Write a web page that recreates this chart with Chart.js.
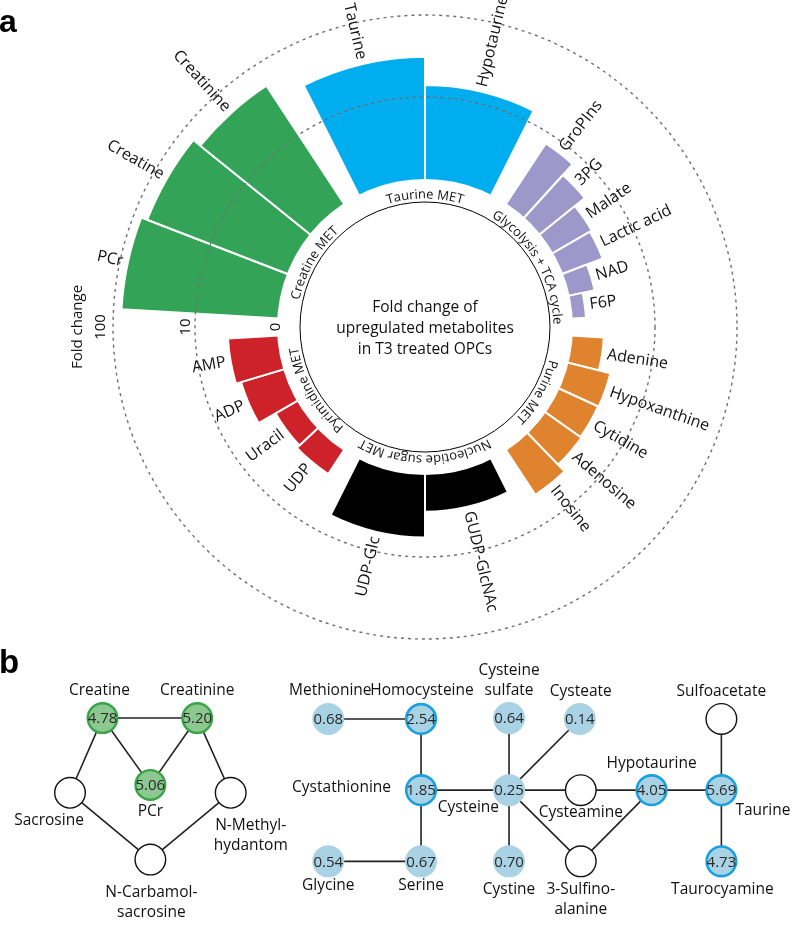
<!DOCTYPE html>
<html>
<head>
<meta charset="utf-8">
<script src="https://cdn.jsdelivr.net/npm/chart.js@4.4.1/dist/chart.umd.min.js"></script>
<style>
  html, body { margin: 0; padding: 0; background: #fff; }
  #wrap { position: relative; width: 800px; height: 928px; overflow: hidden; }
  #circleChart { position: absolute; left: 0; top: 0; }
  #networkChart { position: absolute; left: 0; top: 640px; }
</style>
</head>
<body>
<div id="wrap">
  <canvas id="circleChart" width="800" height="660"></canvas>
  <canvas id="networkChart" width="800" height="288"></canvas>
</div>
<script>
// ---- a: fold change of upregulated metabolites (log radial bars) ----
const groupNames = ['Creatine MET', 'Taurine MET', 'Glycolysis + TCA cycle', 'Purine MET', 'Nucleotide sugar MET', 'Pyrimidine MET'];
const groupColors = ['#33a457', '#00aeef', '#9d97ca', '#e0832f', '#000000', '#cd2229'];

const creatineNames = ['PCr', 'Creatine', 'Creatinine'];
const creatineFold = [80, 67, 52];
const taurineNames = ['Taurine', 'Hypotaurine'];
const taurineFold = [31, 14];
const glycolysisNames = ['GroPIns', '3PG', 'Malate', 'Lactic acid', 'NAD', 'F6P'];
const glycolysisFold = [7.5, 5.0, 3.5, 3.3, 2.05, 1.45];
const purineNames = ['Adenine', 'Hypoxanthine', 'Cytidine', 'Adenosine', 'Inosine'];
const purineFold = [2.4, 3.35, 3.3, 3.4, 4.4];
const sugarNames = ['GUDP-GlcNAc', 'UDP-Glc'];
const sugarFold = [2.8, 5.8];
const pyrimidineNames = ['UDP', 'Uracil', 'ADP', 'AMP'];
const pyrimidineFold = [2.2, 2.0, 3.45, 4.0];

const foldTicks = [1, 10, 100];
const foldTickLabels = ['0', '10', '100'];
const centerLines = ['Fold change of', 'upregulated metabolites', 'in T3 treated OPCs'];

// ---- b: pathway networks ----
const nodeNames = ['Creatine', 'Creatinine', 'PCr', 'Sacrosine', 'N-Methyl-hydantom', 'N-Carbamol-sacrosine',
  'Methionine', 'Homocysteine', 'Cysteine sulfate', 'Cysteate', 'Sulfoacetate',
  'Cystathionine', 'Cysteine', 'Cysteamine', 'Hypotaurine', 'Taurine',
  'Glycine', 'Serine', 'Cystine', '3-Sulfinoalanine', 'Taurocyamine'];
const nodeLabels = ['Creatine', 'Creatinine', 'PCr', 'Sacrosine', 'N-Methyl-|hydantom', 'N-Carbamol-|sacrosine',
  'Methionine', 'Homocysteine', 'Cysteine|sulfate', 'Cysteate', 'Sulfoacetate',
  'Cystathionine', 'Cysteine', 'Cysteamine', 'Hypotaurine', 'Taurine',
  'Glycine', 'Serine', 'Cystine', '3-Sulfino-|alanine', 'Taurocyamine'];
// layout coordinates of the nodes
const nodeX = [89, 188, 139, 55, 223, 139, 325, 422, 514, 588, 736, 422, 514, 589, 663, 736, 325, 422, 514, 589, 736];
const nodeY = [709, 709, 785, 794, 794, 870, 710, 710, 709, 710, 710, 791, 791, 791, 791, 791, 872, 872, 872, 872, 872];
const nodeValues = [4.78, 5.20, 5.06, null, null, null, 0.68, 2.54, 0.64, 0.14, null, 1.85, 0.25, null, 4.05, 5.69, 0.54, 0.67, 0.70, null, 4.73];
const nodeKinds = ['creatine', 'creatine', 'creatine', 'none', 'none', 'none', 'low', 'high', 'low', 'low', 'none',
  'high', 'low', 'none', 'high', 'high', 'low', 'low', 'low', 'none', 'high'];
const edgeList = [
  ['Creatine', 'Creatinine'], ['Creatine', 'PCr'], ['Creatinine', 'PCr'], ['Creatine', 'Sacrosine'],
  ['Creatinine', 'N-Methyl-hydantom'], ['Sacrosine', 'N-Carbamol-sacrosine'], ['N-Methyl-hydantom', 'N-Carbamol-sacrosine'],
  ['Methionine', 'Homocysteine'], ['Homocysteine', 'Cystathionine'], ['Cystathionine', 'Serine'], ['Glycine', 'Serine'],
  ['Cystathionine', 'Cysteine'], ['Cysteine', 'Cysteine sulfate'], ['Cysteine', 'Cysteate'], ['Cysteine', 'Cystine'],
  ['Cysteine', 'Cysteamine'], ['Cysteine', '3-Sulfinoalanine'], ['Cysteamine', 'Hypotaurine'],
  ['3-Sulfinoalanine', 'Hypotaurine'], ['Hypotaurine', 'Taurine'], ['Sulfoacetate', 'Taurine'], ['Taurine', 'Taurocyamine']
];

// label placement relative to node: dx, dy, align
const labelPlace = [
  [-3, -27, 'center'], [0, -27, 'center'], [0, 27, 'center'], [-21, 28, 'center'], [20, 33, 'center'], [1, 33, 'center'],
  [2, -28, 'center'], [1, -28, 'center'], [0, -47, 'center'], [1, -27, 'center'], [0, -27, 'center'],
  [-30, -3, 'right'], [-10, 17, 'right'], [0, 22, 'center'], [0, -27, 'center'], [14, 20, 'left'],
  [0, 24, 'center'], [0, 24, 'center'], [0, 28, 'center'], [0, 28, 'center'], [1, 28, 'center']
];

const FONT = '"Open Sans", "DejaVu Sans", sans-serif';
const INK = '#111111';

// ---------- build polar data ----------
const groups = [
  { names: creatineNames, fold: creatineFold },
  { names: taurineNames, fold: taurineFold },
  { names: glycolysisNames, fold: glycolysisFold },
  { names: purineNames, fold: purineFold },
  { names: sugarNames, fold: sugarFold },
  { names: pyrimidineNames, fold: pyrimidineFold }
];

// radial scale in log10 units; 1-fold sits at the inner ring
const R_MIN = -1.80488;
const R_MAX = 2.18293;
const gapDeg = 360 / 54;
const groupDeg = (360 - groups.length * gapDeg) / groups.length;

const barLabels = [], barValues = [], barAngles = [], barColors = [], barGroup = [];
groups.forEach((g, gi) => {
    g.names.forEach((n, k) => {
        barLabels.push(n);
        barValues.push(Math.log10(g.fold[k]));
        barAngles.push(groupDeg / g.names.length);
        barColors.push(groupColors[gi]);
        barGroup.push(gi);
    });
    // spacer between groups
    barLabels.push('');
    barValues.push(R_MIN);
    barAngles.push(gapDeg);
    barColors.push('rgba(0,0,0,0)');
    barGroup.push(-1);
});

function arcText(ctx, text, cx, cy, radius, centerAngle) {
    const total = ctx.measureText(text).width;
    let a = centerAngle - total / (2 * radius);
    for (const ch of text) {
        const w = ctx.measureText(ch).width;
        ctx.save();
        ctx.translate(cx, cy);
        ctx.rotate(a + w / (2 * radius));
        ctx.fillText(ch, 0, -radius);
        ctx.restore();
        a += w / radius;
    }
}

const ringPlugin = {
    id: 'ring',
    afterDatasetsDraw(chart) {
        const s = chart.scales.r;
        const ctx = chart.ctx;
        const cx = s.xCenter, cy = s.yCenter;
        ctx.save();
        ctx.fillStyle = '#fff';
        ctx.beginPath();
        ctx.arc(cx, cy, s.getDistanceFromCenterForValue(0), 0, Math.PI * 2);
        ctx.fill();
        ctx.strokeStyle = '#000';
        ctx.lineWidth = 1;
        ctx.beginPath();
        ctx.arc(cx, cy, 125, 0, Math.PI * 2);
        ctx.stroke();
        ctx.restore();
    },
    afterDraw(chart) {
        const s = chart.scales.r;
        const ctx = chart.ctx;
        const cx = s.xCenter, cy = s.yCenter;
        const arcs = chart.getDatasetMeta(0).data;
        ctx.save();
        ctx.fillStyle = INK;

        // metabolite names
        ctx.font = '16px ' + FONT;
        ctx.textBaseline = 'middle';
        arcs.forEach((arc, i) => {
            if (barGroup[i] < 0) return;
            const mid = (arc.startAngle + arc.endAngle) / 2;
            const rr = arc.outerRadius + 5;
            ctx.save();
            ctx.translate(cx, cy);
            if (Math.cos(mid) >= 0) {
                ctx.rotate(mid);
                ctx.textAlign = 'left';
                ctx.fillText(barLabels[i], rr, 0);
            } else {
                ctx.rotate(mid + Math.PI);
                ctx.textAlign = 'right';
                ctx.fillText(barLabels[i], -rr, 0);
            }
            ctx.restore();
        });

        // group names along the inner ring
        ctx.font = '13px ' + FONT;
        ctx.textAlign = 'center';
        ctx.textBaseline = 'alphabetic';
        groupNames.forEach((name, gi) => {
            const idx = barGroup.map((g, i) => g === gi ? i : -1).filter(i => i >= 0);
            const a0 = arcs[idx[0]].startAngle;
            const a1 = arcs[idx[idx.length - 1]].endAngle;
            arcText(ctx, name, cx, cy, 128.5, (a0 + a1) / 2 + Math.PI / 2);
        });

        // centre text
        ctx.font = '15.5px ' + FONT;
        ctx.textBaseline = 'middle';
        centerLines.forEach((t, k) => ctx.fillText(t, cx, cy - 19 + k * 21));

        // radial axis labels
        ctx.font = '15px ' + FONT;
        const tickOff = [1.5, 9, 12.5];
        foldTicks.forEach((v, k) => {
            const r = s.getDistanceFromCenterForValue(Math.log10(v)) + tickOff[k];
            ctx.save();
            ctx.translate(cx - r, cy);
            ctx.rotate(-Math.PI / 2);
            ctx.fillText(foldTickLabels[k], 0, 0);
            ctx.restore();
        });
        ctx.save();
        ctx.font = '15px ' + FONT;
        ctx.translate(cx - s.getDistanceFromCenterForValue(2) - 35, cy);
        ctx.rotate(-Math.PI / 2);
        ctx.fillText('Fold change', 0, 0);
        ctx.restore();

        // panel letter
        ctx.font = 'bold 32px "Liberation Sans", Arial, sans-serif';
        ctx.textAlign = 'left';
        ctx.textBaseline = 'alphabetic';
        ctx.fillStyle = '#000';
        ctx.fillText('a', -1, 32);
        ctx.restore();
    }
};

new Chart(document.getElementById('circleChart'), {
    type: 'polarArea',
    data: {
        labels: barLabels,
        datasets: [{
            data: barValues,
            backgroundColor: barColors,
            borderColor: '#ffffff',
            borderWidth: (c) => barGroup[c.dataIndex] < 0 ? 0 : 2,
            angle: (c) => barAngles[c.dataIndex]
        }]
    },
    options: {
        responsive: false,
        animation: false,
        events: [],
        layout: { padding: { left: 98, right: 48, top: 0, bottom: 6 } },
        plugins: { legend: { display: false }, tooltip: { enabled: false } },
        scales: {
            r: {
                min: R_MIN,
                max: R_MAX,
                bounds: 'data',
                startAngle: 273.333,
                afterBuildTicks: (sc) => {
                    sc.ticks = [{ value: 0 }].concat(foldTicks.slice(1).map(v => ({ value: Math.log10(v) })));
                    sc.min = R_MIN;
                    sc.max = R_MAX;
                },
                ticks: { display: false, z: 1 },
                grid: {
                    z: 1,
                    circular: true,
                    lineWidth: 1.4,
                    color: (c) => (c.tick && c.tick.value > 0) ? '#6f6f6f' : 'rgba(0,0,0,0)'
                },
                border: { dash: [3, 4] },
                angleLines: { display: false },
                pointLabels: { display: false }
            }
        }
    },
    plugins: [ringPlugin]
});

// ---------- b: network ----------
const nodeStyle = {
    creatine: { radius: 14.8, fill: '#8dc891', border: '#37a547', width: 2.4 },
    high: { radius: 14.8, fill: '#a9d2e4', border: '#18a0df', width: 2.6 },
    low: { radius: 16, fill: '#a9d2e4', border: '#a9d2e4', width: 0 },
    none: { radius: 15.3, fill: '#ffffff', border: '#111111', width: 1.4 }
};
const nodePoints = nodeNames.map((n, i) => ({ x: nodeX[i], y: nodeY[i] }));
const edgeDatasets = edgeList.map(([a, b]) => ({
    type: 'line',
    data: [nodePoints[nodeNames.indexOf(a)], nodePoints[nodeNames.indexOf(b)]],
    borderColor: '#222222',
    borderWidth: 1.6,
    pointRadius: 0,
    fill: false,
    order: 1
}));

const networkPlugin = {
    id: 'networkText',
    afterDatasetsDraw(chart) {
        const ctx = chart.ctx;
        const xs = chart.scales.x, ys = chart.scales.y;
        ctx.save();
        ctx.textBaseline = 'middle';
        nodeNames.forEach((n, i) => {
            const px = xs.getPixelForValue(nodeX[i]);
            const py = ys.getPixelForValue(nodeY[i]);
            if (nodeValues[i] !== null) {
                ctx.font = '15px ' + FONT;
                ctx.textAlign = 'center';
                ctx.fillStyle = '#2a2a2a';
                ctx.fillText(nodeValues[i].toFixed(2), px, py + 1);
            }
            const [dx, dy, align] = labelPlace[i];
            ctx.font = '15.5px ' + FONT;
            ctx.textAlign = align;
            ctx.fillStyle = INK;
            nodeLabels[i].split('|').forEach((line, k) => {
                ctx.fillText(line, px + dx, py + dy + k * 20);
            });
        });
        ctx.font = 'bold 33px "Liberation Sans", Arial, sans-serif';
        ctx.textAlign = 'left';
        ctx.textBaseline = 'alphabetic';
        ctx.fillStyle = '#000';
        ctx.fillText('b', -1, 33);
        ctx.restore();
    }
};

new Chart(document.getElementById('networkChart'), {
    type: 'scatter',
    data: {
        datasets: [{
            data: nodePoints,
            pointRadius: nodeKinds.map(k => nodeStyle[k].radius),
            pointBackgroundColor: nodeKinds.map(k => nodeStyle[k].fill),
            pointBorderColor: nodeKinds.map(k => nodeStyle[k].border),
            pointBorderWidth: nodeKinds.map(k => nodeStyle[k].width),
            order: 0,
            clip: false
        }].concat(edgeDatasets)
    },
    options: {
        responsive: false,
        animation: false,
        events: [],
        layout: { padding: 0 },
        plugins: { legend: { display: false }, tooltip: { enabled: false } },
        scales: {
            x: { type: 'linear', min: 0, max: 800, display: false },
            y: { type: 'linear', min: 640, max: 928, reverse: true, display: false }
        }
    },
    plugins: [networkPlugin]
});
</script>
</body>
</html>
